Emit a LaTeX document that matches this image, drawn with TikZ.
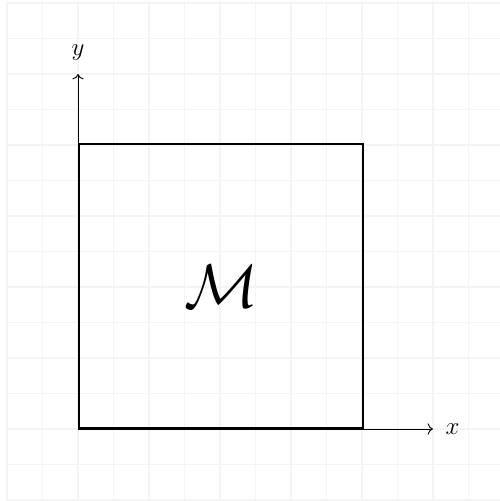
\documentclass[tikz,border=0pt]{standalone}
\usetikzlibrary{arrows.meta}
\begin{document}
\begin{tikzpicture}[x=0.6cm,y=0.6cm,
  gridline/.style={draw=gray!9,line width=0.5pt},
  axis/.style={->,line width=0.45pt},
  lbl/.style={font=\fontsize{13}{15}\selectfont},
  boxline/.style={draw=black,line width=0.95pt}]
\useasboundingbox (-2.197,-2.028) rectangle (11.887,12.085);
\draw[gridline,step=0.6cm] (-2,-2) grid (11.9,12.05);
\coordinate (O) at (0,0);
\coordinate (xe) at (10,0);
\coordinate (ye) at (0,10);
\draw[axis] (O) -- (xe);
\draw[axis] (O) -- (ye);
\node[lbl] (xl) at (10.55,0) {$x$};
\node[lbl] (yl) at (0,10.6) {$y$};
\node[boxline,minimum width=4.8cm,minimum height=4.8cm,anchor=south west,inner sep=0pt] (box) at (O) {};
\node[scale=1.19] (M) at (box.center) {\Huge$\mathcal{M}$};
\end{tikzpicture}
\end{document}
